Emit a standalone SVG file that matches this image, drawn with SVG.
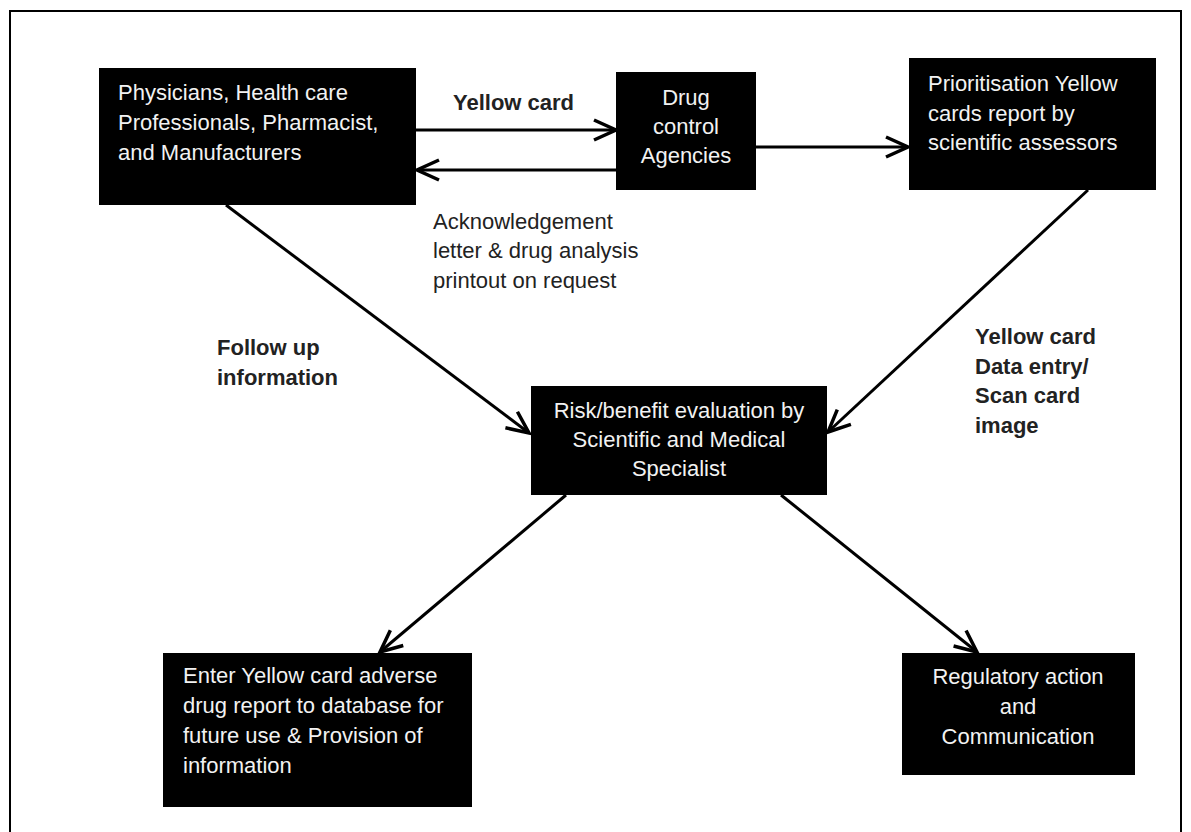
<svg xmlns="http://www.w3.org/2000/svg" width="1191" height="832" viewBox="0 0 1191 832">
  <style>
    .box { fill: #000; }
    .bt { font-family: "Liberation Sans", Arial, sans-serif; font-size: 22px; fill: #f2f2f2; }
    .lbl { font-family: "Liberation Sans", Arial, sans-serif; font-size: 22px; fill: #222; }
    .b { font-weight: bold; }
    .c { text-anchor: middle; }
    .conn { stroke: #000; stroke-width: 3; fill: none; }
  </style>
  <defs>
    <marker id="arr" markerUnits="userSpaceOnUse" viewBox="-26 -15 32 30" markerWidth="32" markerHeight="30" refX="0" refY="0" orient="auto">
      <path d="M-22,-10 L0,0 L-22,10" fill="none" stroke="#000" stroke-width="3.5"/>
    </marker>
  </defs>
  <rect width="1191" height="832" fill="#fff"/>
  <rect x="10" y="11" width="1171" height="840" fill="none" stroke="#000" stroke-width="2"/>

  <g id="connectors">
    <line class="conn" x1="416" y1="130" x2="616" y2="130" marker-end="url(#arr)"/>
    <line class="conn" x1="617" y1="170" x2="417" y2="170" marker-end="url(#arr)"/>
    <line class="conn" x1="756" y1="147" x2="908" y2="147" marker-end="url(#arr)"/>
    <line class="conn" x1="226" y1="205" x2="529" y2="433" marker-end="url(#arr)"/>
    <line class="conn" x1="1088" y1="190" x2="828" y2="432" marker-end="url(#arr)"/>
    <line class="conn" x1="566" y1="495" x2="380" y2="652" marker-end="url(#arr)"/>
    <line class="conn" x1="781" y1="495" x2="977" y2="652" marker-end="url(#arr)"/>
  </g>

  <g id="node-reporters">
    <rect class="box" x="99" y="68" width="317" height="137"/>
    <text class="bt" x="118" y="100">Physicians, Health care</text>
    <text class="bt" x="118" y="130">Professionals, Pharmacist,</text>
    <text class="bt" x="118" y="160">and Manufacturers</text>
  </g>

  <g id="node-agencies">
    <rect class="box" x="616" y="72" width="140" height="118"/>
    <text class="bt c" x="686" y="105">Drug</text>
    <text class="bt c" x="686" y="134">control</text>
    <text class="bt c" x="686" y="163">Agencies</text>
  </g>

  <g id="node-prioritisation">
    <rect class="box" x="909" y="58" width="247" height="132"/>
    <text class="bt" x="928" y="91">Prioritisation Yellow</text>
    <text class="bt" x="928" y="121">cards report by</text>
    <text class="bt" x="928" y="150">scientific assessors</text>
  </g>

  <g id="node-evaluation">
    <rect class="box" x="531" y="386" width="296" height="109"/>
    <text class="bt c" x="679" y="418">Risk/benefit evaluation by</text>
    <text class="bt c" x="679" y="447">Scientific and Medical</text>
    <text class="bt c" x="679" y="476">Specialist</text>
  </g>

  <g id="node-database">
    <rect class="box" x="163" y="653" width="309" height="154"/>
    <text class="bt" x="183" y="683">Enter Yellow card adverse</text>
    <text class="bt" x="183" y="713">drug report to database for</text>
    <text class="bt" x="183" y="743">future use &amp; Provision of</text>
    <text class="bt" x="183" y="773">information</text>
  </g>

  <g id="node-regulatory">
    <rect class="box" x="902" y="653" width="233" height="122"/>
    <text class="bt c" x="1018" y="684">Regulatory action</text>
    <text class="bt c" x="1018" y="714">and</text>
    <text class="bt c" x="1018" y="744">Communication</text>
  </g>

  <g id="labels">
    <text class="lbl b" x="453" y="110">Yellow card</text>
    <text class="lbl" x="433" y="229">Acknowledgement</text>
    <text class="lbl" x="433" y="258">letter &amp; drug analysis</text>
    <text class="lbl" x="433" y="288">printout on request</text>
    <text class="lbl b" x="217" y="355">Follow up</text>
    <text class="lbl b" x="217" y="385">information</text>
    <text class="lbl b" x="975" y="344">Yellow card</text>
    <text class="lbl b" x="975" y="374">Data entry/</text>
    <text class="lbl b" x="975" y="403">Scan card</text>
    <text class="lbl b" x="975" y="433">image</text>
  </g>
</svg>
